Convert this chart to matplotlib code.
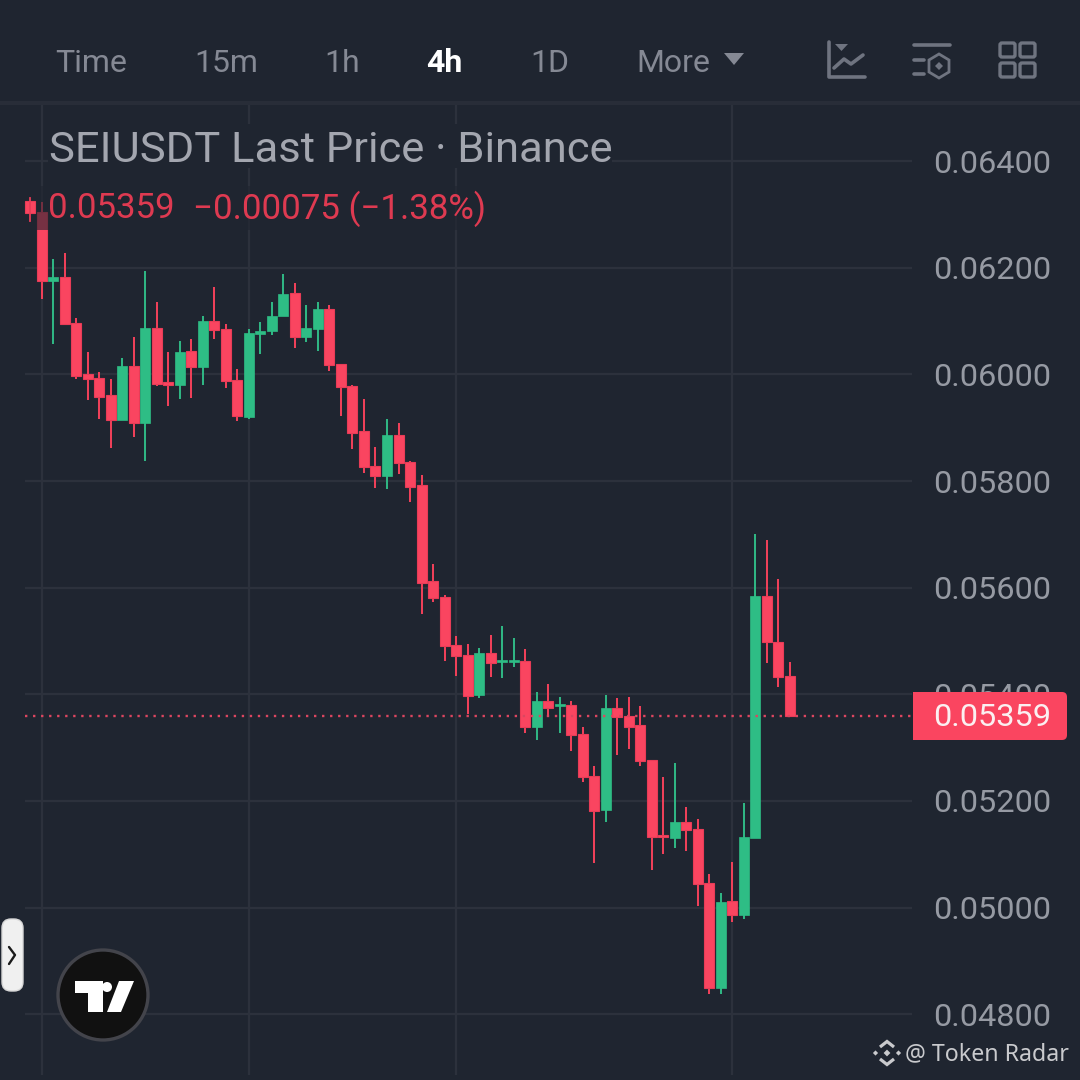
import numpy as np
import matplotlib
matplotlib.use("Agg")
import matplotlib.pyplot as plt
from matplotlib.patches import Polygon, Circle, Rectangle, FancyBboxPatch

# Prices in 1e-5 USDT
opens = [6305,6175,6183,6096,6001,5993,5961,5914,6016,5909,6087,5986,5980,6044,6014,6100,6085,5989,5920,6076,6081,6109,
         6153,6070,6085,6123,6019,5978,5894,5828,5809,5886,5836,5792,5612,5582,5492,5473,5398,5477,5460,5460,5462,5338,
         5387,5378,5380,5325,5246,5183,5374,5359,5342,5277,5136,5130,5160,5147,5046,4849,5012,4986,5130,5584,5498,5434]
closes = [6175,6183,6094,5997,5991,5957,5914,6016,5909,6087,5982,5980,6042,6014,6100,6083,5988,5922,6078,6081,6109,6151,
          6070,6087,6123,6018,5976,5890,5826,5809,5886,5834,5789,5609,5580,5490,5472,5397,5477,5458,5464,5464,5338,5387,
          5374,5382,5323,5245,5181,5374,5357,5338,5275,5132,5132,5160,5145,5044,4849,5010,4986,5132,5584,5498,5432,5359]
highs = [6323,6216,6228,6106,6042,6004,5991,6031,6070,6194,6136,6042,6063,6066,6109,6164,6094,6010,6085,6098,6136,6188,
         6171,6130,6136,6130,6019,5980,5954,5864,5916,5909,5837,5811,5644,5586,5509,5494,5487,5511,5528,5505,5485,5404,
         5419,5395,5387,5338,5265,5398,5393,5395,5378,5277,5245,5271,5188,5166,5063,5027,5085,5196,5700,5689,5616,5460]
lows = [6141,6057,6094,5991,5952,5916,5862,5914,5882,5837,5978,5941,5954,5956,5980,6066,5974,5912,5916,6038,6074,6109,
        6049,6061,6044,6006,5922,5860,5815,5787,5785,5813,5761,5550,5573,5462,5434,5363,5393,5432,5430,5451,5327,5314,
        5357,5327,5293,5235,5083,5160,5286,5297,5265,5070,5100,5111,5106,5003,4838,4838,4973,4978,5130,5458,5413,5359]
y_ticks = [0.048, 0.050, 0.052, 0.054, 0.056, 0.058, 0.060, 0.062, 0.064]
v_grid_idx = [0, 18, 36, 60]
last_price = 0.05359
intervals = ["Time", "15m", "1h", "4h", "1D", "More"]
interval_x = [55, 194, 324, 426, 530, 636]

BG = "#1F2530"; GRID = "#2C313C"; RED = "#FA4560"; REDE = "#E83C57"; GREEN = "#2EBD85"
GREY = "#858994"; LABEL = "#969AA3"; ICON = "#6F7480"
FONT = ["Roboto", "DejaVu Sans"]
plt.rcParams["font.family"] = FONT

W = 1080
fig = plt.figure(figsize=(10.8, 10.8), dpi=100, facecolor=BG)

# Chart axes: pixels x 25..912, y 103..1075
ax = fig.add_axes([25/W, 1-1075/W, (912-25)/W, (1075-103)/W], facecolor=BG)
SP = 11.51
ax.set_xlim((25-41.7)/SP, (912-41.7)/SP)
ax.set_ylim(0.04686, 0.06509)
for s in ax.spines.values():
    s.set_visible(False)
ax.set_xticks([])
ax.yaxis.tick_right()
ax.set_yticks(y_ticks)
ax.set_yticklabels([f"{t:.5f}" for t in y_ticks], fontsize=23.4, color=LABEL)
ax.tick_params(axis="y", length=0, pad=15.5)
ax.set_axisbelow(True)
ax.grid(axis="y", color=GRID, lw=1.6)
for i in v_grid_idx:
    ax.axvline(i, color=GRID, lw=1.6, zorder=0.5)

o, c, h, l = [np.array(a) * 1e-5 for a in (opens, closes, highs, lows)]
x = np.arange(len(o))
up = c >= o
ax.vlines(x[~up], l[~up], h[~up], color="#EE4059", lw=1.45, zorder=2)
ax.vlines(x[up], l[up], h[up], color="#2FB583", lw=1.45, zorder=2)
w = 10/SP
ax.bar(x[~up], (o-c)[~up], bottom=c[~up], width=w, color=RED, edgecolor=REDE, lw=0.8, zorder=3)
ax.bar(x[up], (c-o)[up], bottom=o[up], width=w, color=GREEN, edgecolor=GREEN, lw=0.5, zorder=3)
ax.axhline(last_price, xmin=0, xmax=1, color="#DC4660", lw=1.7, ls=(0, (1, 2.4)), zorder=4)

# Overlay in pixel coordinates
ov = fig.add_axes([0, 0, 1, 1], facecolor="none")
ov.set_xlim(0, W); ov.set_ylim(W, 0); ov.axis("off")

# Header
ov.add_patch(Rectangle((0, 0), W, 101, fc=BG, ec="none"))
ov.add_patch(Rectangle((0, 101), W, 4, fc="#282D38", ec="none"))
for name, px in zip(intervals, interval_x):
    act = name == "4h"
    ov.text(px, 63, name, fontsize=23, color="white" if act else GREY,
            fontweight="bold" if act else "normal", va="center", ha="left")
ov.add_patch(Polygon([(724, 53), (744, 53), (734, 65)], fc=GREY, ec="none"))

# Icons
def pl(xs, ys, lw=2.6, col=ICON):
    ov.plot(xs, ys, color=col, lw=lw, solid_capstyle="round", solid_joinstyle="round")
pl([829, 829, 865], [42, 77, 77])
ov.add_patch(Polygon([(835, 44), (848, 44), (841.5, 51)], fc=ICON, ec="none"))
pl([834, 844, 851, 863], [68, 59, 64, 55])
pl([914, 950], [45, 45]); pl([914, 924], [60, 60]); pl([914, 924], [74, 74])
ov.add_patch(Polygon([(939, 54), (949, 60), (949, 72), (939, 78), (929, 72), (929, 60)], fc="none", ec=ICON, lw=2))
ov.add_patch(Polygon([(939, 62), (943, 66), (939, 70), (935, 66)], fc=ICON, ec="none"))
for bx, by in [(1000, 43), (1020, 43), (1000, 63), (1020, 63)]:
    ov.add_patch(FancyBboxPatch((bx, by), 15, 14, boxstyle="round,pad=0,rounding_size=2", fc="none", ec=ICON, lw=2.4))

# Legend
ov.add_patch(Rectangle((48, 124), 564, 44, fc=BG, ec="none"))
ov.text(49, 150, "SEIUSDT Last Price · Binance", fontsize=31.3, color="#A3A6AF", va="center", ha="left")
ov.add_patch(Rectangle((25, 186), 465, 44, fc=BG, ec="none", alpha=0.6))
ov.plot([30, 30], [198, 221], color=REDE, lw=1.3)
ov.add_patch(Rectangle((25, 201), 10, 12, fc=RED, ec=REDE, lw=0.8))
ov.text(48, 209, "0.05359", fontsize=25, color="#DE3A51", va="center", ha="left")
ov.text(193, 209, "−0.00075 (−1.38%)", fontsize=25.1, color="#DE3A51", va="center", ha="left")

# Price tag
tag = FancyBboxPatch((895, 692), 172, 48, boxstyle="round,pad=0,rounding_size=5", fc=RED, ec="none")
ov.add_patch(tag)
tag.set_clip_path(Rectangle((913, 680), 170, 70, transform=ov.transData))
ov.text(992, 718, "0.05359", fontsize=23.4, color="#FBEFF1", va="center", ha="center")

# Side button
ov.add_patch(FancyBboxPatch((2, 919), 21, 72, boxstyle="round,pad=0,rounding_size=9", fc="#F0F0F0", ec="#D8D8D8", lw=1))
pl([9, 15, 9], [947, 955, 964], lw=1.7, col="#1A1A1A")

# TradingView logo
ov.add_patch(Circle((103, 995), 45, fc="#111111", ec="#43444B", lw=2.4))
ov.add_patch(Polygon([(75, 981), (103, 981), (103, 1012), (88, 1012), (88, 993), (75, 993)], fc="white", ec="none"))
ov.add_patch(Circle((107, 987), 5, fc="white", ec="none"))
ov.add_patch(Polygon([(119, 981), (134, 981), (121, 1012), (107, 1012)], fc="white", ec="none"))

# Watermark
WM = "#C9CACD"
cx, cy = 887, 1053
for dx, dy, r in [(-11.5, 0, 2.6), (11.5, 0, 2.6), (0, 0, 3.4)]:
    ov.add_patch(Polygon([(cx+dx, cy+dy-r), (cx+dx+r, cy+dy), (cx+dx, cy+dy+r), (cx+dx-r, cy+dy)], fc=WM, ec="none"))
for sgn in (-1, 1):
    ov.plot([cx-7, cx, cx+7], [cy+sgn*6, cy+sgn*11.5, cy+sgn*6], color=WM, lw=2.3, solid_joinstyle="miter", solid_capstyle="butt")
ov.text(905, 1054, "@ Token Radar", fontsize=16.7, color=WM, family=["Noto Sans", "DejaVu Sans"], va="center", ha="left")

fig.savefig("out.png", dpi=100, facecolor=BG)
